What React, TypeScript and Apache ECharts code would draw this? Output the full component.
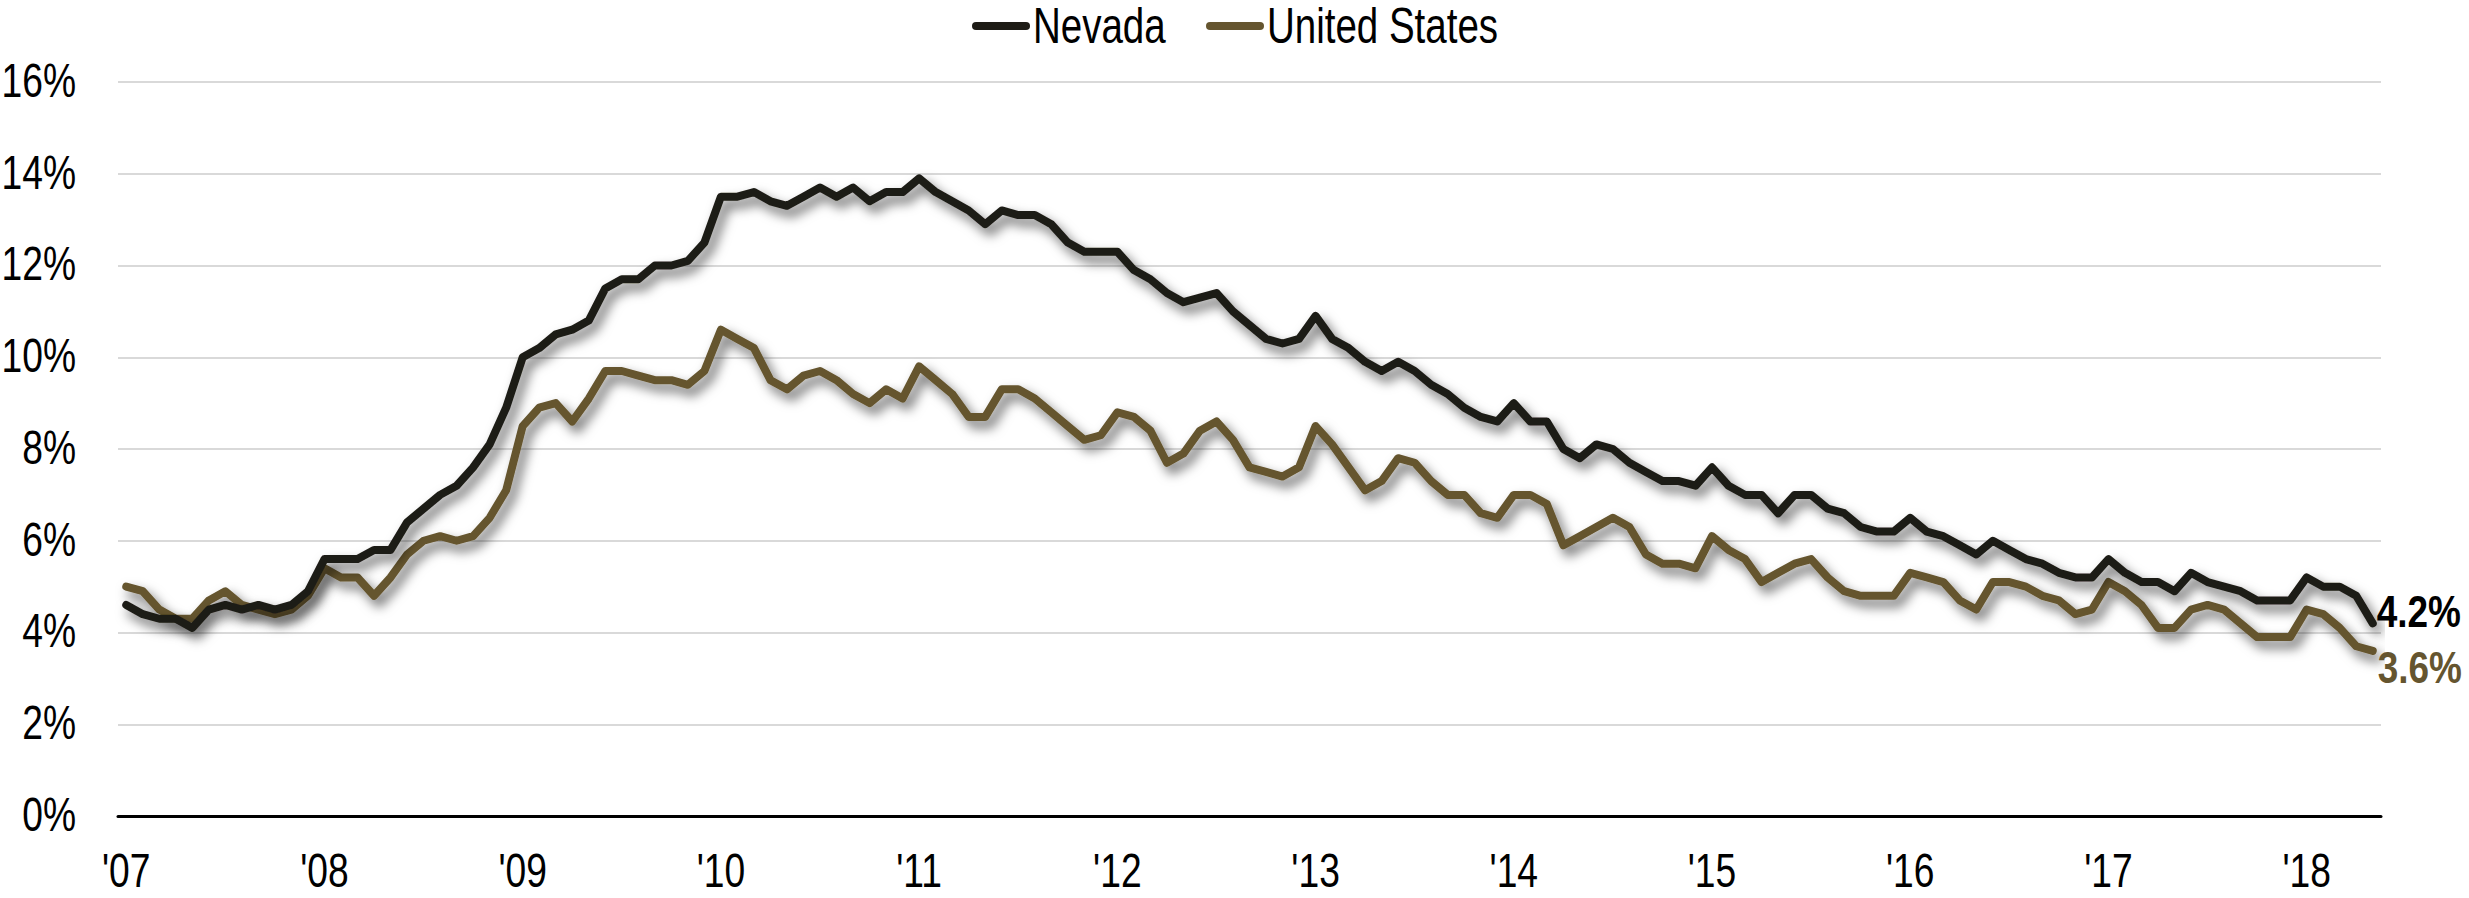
import React, { useEffect, useRef } from "react";
import * as echarts from "echarts";

// Monthly unemployment rate, Jan 2007 - May 2018 (%)
const nevada: number[] = [
  4.6, 4.4, 4.3, 4.3, 4.1, 4.5, 4.6, 4.5, 4.6, 4.5, 4.6, 4.9,
  5.6, 5.6, 5.6, 5.8, 5.8, 6.4, 6.7, 7.0, 7.2, 7.6, 8.1, 8.9,
  10.0, 10.2, 10.5, 10.6, 10.8, 11.5, 11.7, 11.7, 12.0, 12.0, 12.1, 12.5,
  13.5, 13.5, 13.6, 13.4, 13.3, 13.5, 13.7, 13.5, 13.7, 13.4, 13.6, 13.6,
  13.9, 13.6, 13.4, 13.2, 12.9, 13.2, 13.1, 13.1, 12.9, 12.5, 12.3, 12.3,
  12.3, 11.9, 11.7, 11.4, 11.2, 11.3, 11.4, 11.0, 10.7, 10.4, 10.3, 10.4,
  10.9, 10.4, 10.2, 9.9, 9.7, 9.9, 9.7, 9.4, 9.2, 8.9, 8.7, 8.6,
  9.0, 8.6, 8.6, 8.0, 7.8, 8.1, 8.0, 7.7, 7.5, 7.3, 7.3, 7.2,
  7.6, 7.2, 7.0, 7.0, 6.6, 7.0, 7.0, 6.7, 6.6, 6.3, 6.2, 6.2,
  6.5, 6.2, 6.1, 5.9, 5.7, 6.0, 5.8, 5.6, 5.5, 5.3, 5.2, 5.2,
  5.6, 5.3, 5.1, 5.1, 4.9, 5.3, 5.1, 5.0, 4.9, 4.7, 4.7, 4.7,
  5.2, 5.0, 5.0, 4.8, 4.2,
];

const unitedStates: number[] = [
  5.0, 4.9, 4.5, 4.3, 4.3, 4.7, 4.9, 4.6, 4.5, 4.4, 4.5, 4.8,
  5.4, 5.2, 5.2, 4.8, 5.2, 5.7, 6.0, 6.1, 6.0, 6.1, 6.5, 7.1,
  8.5, 8.9, 9.0, 8.6, 9.1, 9.7, 9.7, 9.6, 9.5, 9.5, 9.4, 9.7,
  10.6, 10.4, 10.2, 9.5, 9.3, 9.6, 9.7, 9.5, 9.2, 9.0, 9.3, 9.1,
  9.8, 9.5, 9.2, 8.7, 8.7, 9.3, 9.3, 9.1, 8.8, 8.5, 8.2, 8.3,
  8.8, 8.7, 8.4, 7.7, 7.9, 8.4, 8.6, 8.2, 7.6, 7.5, 7.4, 7.6,
  8.5, 8.1, 7.6, 7.1, 7.3, 7.8, 7.7, 7.3, 7.0, 7.0, 6.6, 6.5,
  7.0, 7.0, 6.8, 5.9, 6.1, 6.3, 6.5, 6.3, 5.7, 5.5, 5.5, 5.4,
  6.1, 5.8, 5.6, 5.1, 5.3, 5.5, 5.6, 5.2, 4.9, 4.8, 4.8, 4.8,
  5.3, 5.2, 5.1, 4.7, 4.5, 5.1, 5.1, 5.0, 4.8, 4.7, 4.4, 4.5,
  5.1, 4.9, 4.6, 4.1, 4.1, 4.5, 4.6, 4.5, 4.2, 3.9, 3.9, 3.9,
  4.5, 4.4, 4.1, 3.7, 3.6,
];

const years: string[] = ["2007", "2008", "2009", "2010", "2011", "2012", "2013", "2014", "2015", "2016", "2017", "2018"];
const monthNums: string[] = ["01", "02", "03", "04", "05", "06", "07", "08", "09", "10", "11", "12"];
const categories: string[] = years
  .flatMap((y) => monthNums.map((m) => `${y}-${m}`))
  .slice(0, nevada.length);

const yTicks: number[] = [0, 2, 4, 6, 8, 10, 12, 14, 16];
const seriesNames: string[] = ["Nevada", "United States"];

const COLORS = ["#1e1c16", "#65552f"];
const FONT = "'Liberation Sans', Arial, sans-serif";
const SQUEEZE = 0.76;

export default function App() {
  const ref = useRef<HTMLDivElement>(null);

  useEffect(() => {
    if (!ref.current) return;
    const chart = echarts.init(ref.current, undefined, { renderer: "svg" });
    const shadow = {
      shadowColor: "rgba(0,0,0,0.6)",
      shadowBlur: 12,
      shadowOffsetX: 5,
      shadowOffsetY: 7,
    };
    chart.setOption({
      animation: false,
      backgroundColor: "#ffffff",
      textStyle: { fontFamily: FONT },
      grid: { left: 118, right: 88, top: 82, bottom: 82, containLabel: false },
      xAxis: {
        type: "category",
        data: categories,
        boundaryGap: true,
        axisLine: { show: true, lineStyle: { color: "#000", width: 3 } },
        axisTick: { show: false },
        axisLabel: { show: false },
        splitLine: { show: false },
      },
      yAxis: {
        type: "value",
        min: 0,
        max: 16,
        interval: 2,
        axisLine: { show: false },
        axisTick: { show: false },
        axisLabel: { show: false },
        splitLine: { show: true, lineStyle: { color: "#d9d9d9", width: 2 } },
      },
      series: [
        {
          name: seriesNames[0],
          type: "line",
          data: nevada,
          symbol: "none",
          color: COLORS[0],
          lineStyle: { color: COLORS[0], width: 8, cap: "round", join: "round", ...shadow },
          z: 3,
        },
        {
          name: seriesNames[1],
          type: "line",
          data: unitedStates,
          symbol: "none",
          color: COLORS[1],
          lineStyle: { color: COLORS[1], width: 8, cap: "round", join: "round", ...shadow },
          z: 2,
        },
      ],
    });

    const px = (i: number, v: number) =>
      chart.convertToPixel({ gridIndex: 0 }, [i, v]) as number[];

    const textEl = (
      text: string,
      x: number,
      y: number,
      align: string,
      size: number,
      fill: string,
      weight: string = "normal",
      squeeze: number = SQUEEZE
    ) => ({
      type: "text",
      x,
      y,
      scaleX: squeeze,
      silent: true,
      z: 100,
      style: {
        text,
        fill,
        fontFamily: FONT,
        fontSize: size,
        fontWeight: weight,
        align,
        verticalAlign: "middle",
        textAlign: align,
        textVerticalAlign: "middle",
      },
    });

    const graphics: any[] = [];

    // y-axis labels
    yTicks.forEach((t) => {
      const p = px(0, t);
      graphics.push(textEl(`${t}%`, 76, p[1] - 2, "right", 49, "#000"));
    });

    // x-axis labels (every January)
    categories.forEach((c, i) => {
      if (c.endsWith("-01")) {
        const p = px(i, 0);
        graphics.push(textEl("'" + c.slice(2, 4), p[0], 870, "center", 49, "#000"));
      }
    });

    // end labels
    const last = nevada.length - 1;
    const pN = px(last, nevada[last]);
    const pU = px(last, unitedStates[last]);
    graphics.push(textEl(`${nevada[last].toFixed(1)}%`, pN[0] + 4, pN[1] - 11, "left", 44, "#000", "bold", 0.84));
    graphics.push(textEl(`${unitedStates[last].toFixed(1)}%`, pU[0] + 5, pU[1] + 17, "left", 44, COLORS[1], "bold", 0.84));

    // legend
    const legendItems = [
      { name: seriesNames[0], x: 972, color: COLORS[0] },
      { name: seriesNames[1], x: 1206, color: COLORS[1] },
    ];
    legendItems.forEach((it) => {
      graphics.push({
        type: "line",
        silent: true,
        z: 100,
        shape: { x1: it.x + 4, y1: 26, x2: it.x + 54, y2: 26 },
        style: { stroke: it.color, lineWidth: 8, lineCap: "round" },
      });
      graphics.push(textEl(it.name, it.x + 61, 26, "left", 50, "#000", "normal", 0.77));
    });

    chart.setOption({ graphic: graphics });

    return () => chart.dispose();
  }, []);

  return (
    <div
      ref={ref}
      style={{ position: "fixed", left: 0, top: 0, width: "2469px", height: "898px" }}
    />
  );
}
